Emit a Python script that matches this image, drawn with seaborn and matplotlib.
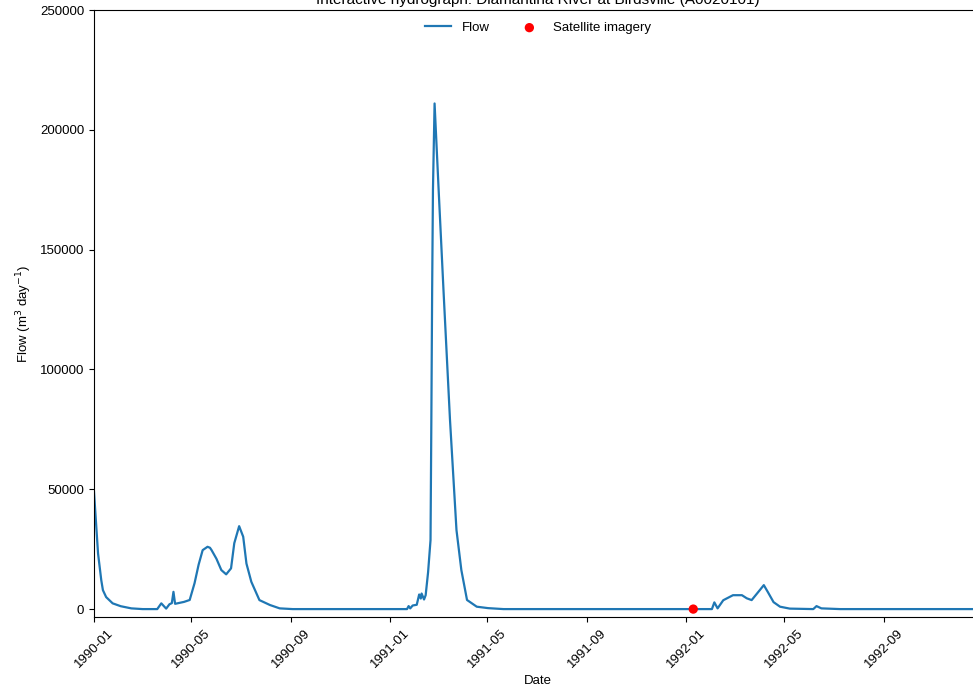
import pandas as pd
import numpy as np
import matplotlib
matplotlib.use("Agg")
import matplotlib.pyplot as plt
import matplotlib.dates as mdates
import seaborn as sns

flow_dates = [
    "1990-01-01", "1990-01-06", "1990-01-10", "1990-01-12", "1990-01-16",
    "1990-01-24", "1990-02-03", "1990-02-16", "1990-03-02", "1990-03-20",
    "1990-03-25", "1990-03-31", "1990-04-04", "1990-04-07", "1990-04-09",
    "1990-04-11", "1990-04-22", "1990-04-29", "1990-05-05", "1990-05-10",
    "1990-05-15", "1990-05-21", "1990-05-24", "1990-05-26", "1990-06-01",
    "1990-06-07", "1990-06-13", "1990-06-19", "1990-06-23", "1990-06-29",
    "1990-07-04", "1990-07-08", "1990-07-14", "1990-07-24", "1990-08-06",
    "1990-08-18", "1990-09-03",
    "1991-01-22", "1991-01-24", "1991-01-26", "1991-01-29", "1991-02-03",
    "1991-02-06", "1991-02-08", "1991-02-09", "1991-02-12", "1991-02-14",
    "1991-02-17", "1991-02-20", "1991-02-21", "1991-02-22", "1991-02-23",
    "1991-02-25", "1991-03-02", "1991-03-08", "1991-03-16", "1991-03-24",
    "1991-03-30", "1991-04-06", "1991-04-18", "1991-05-02", "1991-05-21",
    "1992-02-02", "1992-02-05", "1992-02-09", "1992-02-16", "1992-02-28",
    "1992-03-10", "1992-03-16", "1992-03-22", "1992-04-01", "1992-04-06",
    "1992-04-11", "1992-04-18", "1992-04-26", "1992-05-08", "1992-06-06",
    "1992-06-10", "1992-06-16", "1992-07-09", "1992-12-31",
]
flow_values = [
    49000, 23200, 12000, 7900, 5000,
    2400, 1200, 300, 0, 0,
    2400, 200, 2000, 2500, 7200,
    2200, 3000, 3800, 10800, 18500,
    24600, 26000, 25600, 24600, 21000,
    16300, 14500, 17000, 27500, 34600,
    30200, 19000, 11400, 3750, 1700,
    300, 0,
    0, 1250, 300, 1500, 1800,
    6100, 4400, 6500, 4000, 5800,
    15400, 28800, 78000, 133000, 175000,
    211000, 175000, 133000, 79000, 33000,
    16300, 3800, 1000, 400, 0,
    0, 2800, 300, 3700, 5800,
    5800, 4500, 3750, 7900, 10000,
    7100, 2900, 1000, 200, 0,
    1250, 300, 0, 0,
]

# Satellite imagery acquisition dates
sat_dates = ["1992-01-10"]
sat_values = [0]

flow = pd.DataFrame({"Date": pd.to_datetime(flow_dates), "Flow": flow_values})
sat = pd.DataFrame({"Date": pd.to_datetime(sat_dates), "Flow": sat_values})

plt.rcParams["font.family"] = ["Liberation Sans", "DejaVu Sans"]
plt.rcParams["font.size"] = 9.5

fig = plt.figure(figsize=(9.73, 6.9), dpi=100)
ax = fig.add_axes([0.0966, 0.1058, 0.9126, 0.8797])

sns.lineplot(data=flow, x="Date", y="Flow", ax=ax, color="#1f77b4",
             linewidth=1.6, label="Flow")
sns.scatterplot(data=sat, x="Date", y="Flow", ax=ax, color="red", s=45,
                edgecolor="none", zorder=3, label="Satellite imagery")

ax.set_xlim(pd.Timestamp("1990-01-01"), pd.Timestamp("1992-12-31"))
ax.set_ylim(-3300, 250000)
ax.set_yticks([0, 50000, 100000, 150000, 200000, 250000])
ax.xaxis.set_major_locator(mdates.MonthLocator(bymonth=[1, 5, 9]))
ax.xaxis.set_major_formatter(mdates.DateFormatter("%Y-%m"))
plt.setp(ax.get_xticklabels(), rotation=45)

ax.set_xlabel("Date")
ax.set_ylabel("Flow (m$^3$ day$^{-1}$)")
ax.set_title("Interactive hydrograph: Diamantina River at Birdsville (A0020101)",
             fontsize=11, pad=4)
ax.legend(loc="upper center", ncol=2, frameon=False)

fig.savefig("out.png", dpi=100)
